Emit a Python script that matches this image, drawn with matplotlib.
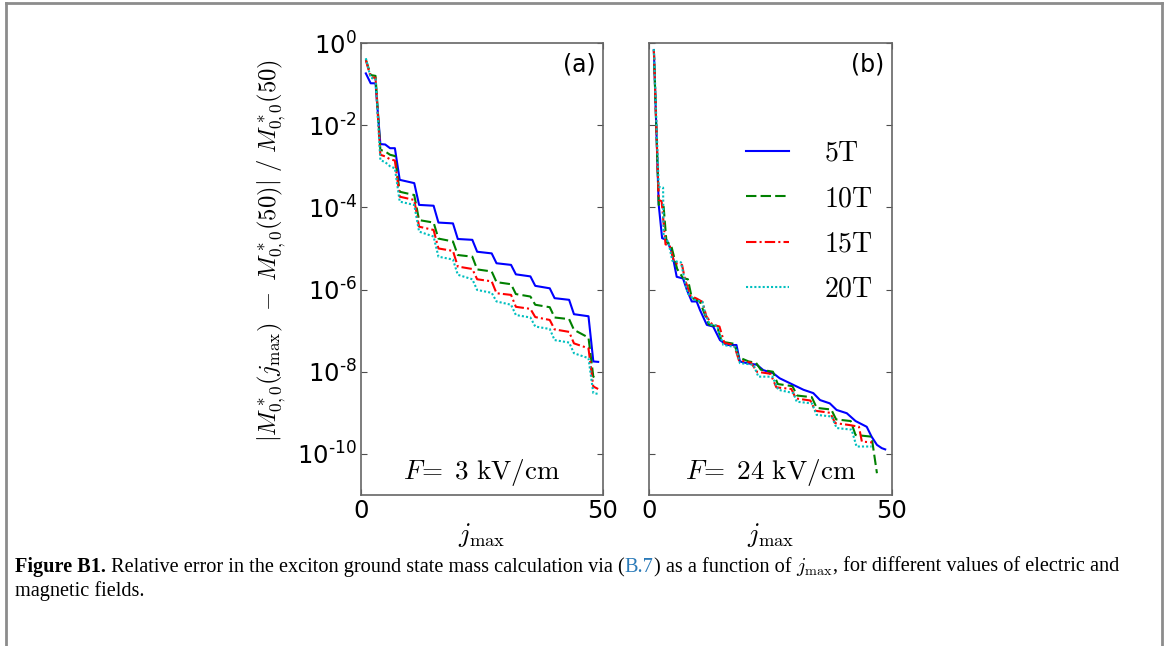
import numpy as np
import matplotlib.pyplot as plt
from matplotlib.lines import Line2D
from matplotlib.ticker import NullLocator, FuncFormatter

plt.rcParams['mathtext.fontset'] = 'cm'
plt.rcParams['font.family'] = 'DejaVu Sans'

# ---- data (log10 of relative error), panel (a): F = 3 kV/cm
xa = [1, 2, 3, 4, 5, 6, 7, 8, 11, 12, 15, 16, 19, 20, 23, 24, 27, 28, 31, 32,
      35, 36, 39, 40, 43, 44, 47, 48, 49]
ya_5T = [-0.74, -0.98, -0.98, -2.46, -2.47, -2.56, -2.56, -3.33, -3.41, -3.94,
         -3.96, -4.37, -4.39, -4.77, -4.79, -5.08, -5.12, -5.36, -5.40, -5.63,
         -5.68, -5.91, -5.97, -6.21, -6.25, -6.60, -6.65, -7.75, -7.76]
ya_10T = [-0.40, -0.78, -0.80, -2.60, -2.64, -2.72, -2.75, -3.62, -3.70, -4.31,
          -4.37, -4.76, -4.83, -5.16, -5.20, -5.51, -5.56, -5.82, -5.87, -6.11,
          -6.17, -6.37, -6.43, -6.68, -6.72, -6.98, -7.17, -8.12, -8.17]
ya_15T = [-0.42, -0.83, -0.85, -2.72, -2.76, -2.83, -2.86, -3.74, -3.82, -4.47,
          -4.55, -5.00, -5.06, -5.44, -5.50, -5.75, -5.80, -6.09, -6.13, -6.42,
          -6.47, -6.67, -6.74, -6.97, -7.03, -7.31, -7.43, -8.36, -8.42]
ya_20T = [-0.37, -0.85, -0.87, -2.85, -2.90, -3.00, -3.05, -3.86, -3.94, -4.59,
          -4.71, -5.20, -5.27, -5.64, -5.75, -6.01, -6.08, -6.29, -6.37, -6.62,
          -6.68, -6.90, -6.96, -7.23, -7.29, -7.55, -7.67, -8.52, -8.54]

# ---- panel (b): F = 24 kV/cm
xb_5T = [1, 2, 2.7, 3.6, 4.7, 5.7, 7.0, 7.8, 8.8, 9.8, 10.5, 11.9, 13.2, 14.6,
         16.0, 18.0, 18.7, 20.1, 22.2, 23.5, 25.6, 26.9, 29.0, 30.4, 31.8, 33.8,
         35.2, 37.2, 38.6, 40.7, 42.5, 44.8, 45.8, 46.9, 47.9, 48.6]
yb_5T = [-0.17, -3.94, -4.75, -4.79, -5.08, -5.69, -5.73, -6.01, -6.29, -6.29,
         -6.50, -6.86, -6.90, -7.23, -7.35, -7.35, -7.75, -7.79, -7.83, -7.96,
         -8.04, -8.16, -8.28, -8.36, -8.44, -8.52, -8.69, -8.77, -8.93, -9.01,
         -9.20, -9.34, -9.58, -9.78, -9.86, -9.89]
xb_10T = [1, 2, 3.0, 3.6, 4.5, 5.8, 7.0, 8.0, 8.8, 10.5, 11.3, 12.3, 14.0, 15.0,
          17.5, 18.5, 20.5, 22.0, 23.0, 25.5, 26.5, 29.5, 30.5, 33.5, 34.5,
          37.5, 38.5, 41.5, 42.5, 45.8, 46.9]
yb_10T = [-0.16, -3.94, -3.97, -4.85, -4.90, -5.50, -5.72, -5.75, -6.20, -6.30,
          -6.55, -6.85, -6.90, -7.27, -7.32, -7.65, -7.75, -7.78, -7.95, -8.00,
          -8.30, -8.35, -8.58, -8.62, -8.88, -8.92, -9.16, -9.20, -9.54, -9.58,
          -10.47]
xb_15T = [1, 2, 2.6, 3.4, 4.3, 5.2, 6.8, 7.4, 8.5, 9.8, 11.0, 11.8, 13.0, 14.5,
          15.5, 17.5, 18.5, 21.0, 22.2, 25.0, 26.2, 29.3, 30.2, 33.2, 34.2,
          37.3, 38.3, 41.4, 43.2, 43.8, 45.9]
yb_15T = [-0.17, -3.82, -3.85, -4.90, -4.95, -5.35, -5.40, -5.75, -6.15, -6.22,
          -6.30, -6.65, -6.85, -6.90, -7.30, -7.35, -7.72, -7.78, -8.00, -8.05,
          -8.38, -8.42, -8.65, -8.70, -8.95, -9.00, -9.25, -9.30, -9.34, -9.70,
          -9.72]
xb_20T = [1, 2, 2.9, 3.0, 4.0, 4.8, 6.6, 7.2, 8.0, 9.4, 11.0, 11.6, 12.5, 14.0,
          15.3, 17.8, 18.7, 21.5, 22.5, 25.4, 26.6, 29.7, 30.4, 33.5, 34.5,
          37.6, 38.6, 41.7, 42.7, 45.8]
yb_20T = [-0.15, -3.50, -3.52, -4.70, -4.85, -5.30, -5.34, -5.70, -6.10, -6.25,
          -6.30, -6.60, -6.85, -6.88, -7.35, -7.40, -7.79, -7.83, -8.12, -8.12,
          -8.44, -8.52, -8.73, -8.77, -9.05, -9.09, -9.37, -9.41, -9.82, -9.82]

labels = [r'$\mathrm{5T}$', r'$\mathrm{10T}$', r'$\mathrm{15T}$', r'$\mathrm{20T}$']
colors = ['#0000ff', '#008000', '#ff0000', '#00bfbf']
dashes = [(), (5, 2), (5, 1.5, 1, 1.5), (1, 1)]

W, H = 1168, 646
fig = plt.figure(figsize=(W / 100, H / 100), dpi=100)


def box(l, t, r, b):
    return [l / W, 1 - b / H, (r - l) / W, (b - t) / H]


def decade(v, pos):
    # "10" with a short hyphen in the exponent, like the original
    n = int(round(np.log10(v)))
    if n < 0:
        return '$\\mathdefault{10^{\u2010%d}}$' % (-n)
    return '$\\mathdefault{10^{%d}}$' % n


ax1 = fig.add_axes(box(361, 43, 603, 495))
ax2 = fig.add_axes(box(649, 43, 892, 495))

series_a = [(xa, ya_5T), (xa, ya_10T), (xa, ya_15T), (xa, ya_20T)]
series_b = [(xb_5T, yb_5T), (xb_10T, yb_10T), (xb_15T, yb_15T), (xb_20T, yb_20T)]

for ax, series in [(ax1, series_a), (ax2, series_b)]:
    for (x, y), c, d, lab in zip(series, colors, dashes, labels):
        line, = ax.plot(x, 10.0 ** np.array(y), color=c, lw=1.5, label=lab)
        if d:
            line.set_dashes(d)
    ax.set_yscale('log')
    ax.set_ylim(1e-11, 1)
    ax.set_xlim(0, 50)
    ax.set_xticks([0, 50])
    ax.set_yticks(10.0 ** np.arange(0, -11, -2))
    ax.yaxis.set_minor_locator(NullLocator())
    ax.yaxis.set_major_formatter(FuncFormatter(decade))
    ax.tick_params(direction='in', top=True, right=True, length=4,
                   labelsize=17.5, pad=3, color='0.3')
    for s in ax.spines.values():
        s.set_color('0.4')
        s.set_linewidth(1.2)
    ax.set_xlabel(r'$j_{\max}$', fontsize=19)
    ax.xaxis.set_label_coords(0.5, -0.058)

ax2.tick_params(labelleft=False)

ax1.set_ylabel(r'$|M^*_{0,0}(j_{\max})\ -\ M^*_{0,0}(50)|\ /\ M^*_{0,0}(50)$',
               fontsize=17.7)
ax1.yaxis.set_label_coords(-0.30, 0.54)

ax1.text(0.97, 0.98, '(a)', ha='right', va='top', fontsize=17, transform=ax1.transAxes)
ax2.text(0.97, 0.98, '(b)', ha='right', va='top', fontsize=17, transform=ax2.transAxes)
ax1.text(0.5, 0.05, r'$F\!=\ 3\ \mathrm{kV/cm}$', ha='center', va='center',
         fontsize=19.5, transform=ax1.transAxes)
ax2.text(0.5, 0.05, r'$F\!=\ 24\ \mathrm{kV/cm}$', ha='center', va='center',
         fontsize=19.5, transform=ax2.transAxes)

ax2.legend(loc='upper left', bbox_to_anchor=(0.40, 0.788), frameon=False,
           fontsize=20, handlelength=1.55, handletextpad=1.25, labelspacing=0.62,
           borderpad=0, borderaxespad=0)

# figure frame
for xs, ys in [([6, 6], [3, H]), ([6, 1162], [3, 3]), ([1162, 1162], [3, H])]:
    fig.add_artist(Line2D([v / W for v in xs], [1 - v / H for v in ys],
                          transform=fig.transFigure, color='0.55', lw=2))

# caption, written piece by piece
renderer = fig.canvas.get_renderer()


def caption_line(pieces, x0, ybase):
    x = x0
    for s, kw in pieces:
        t = fig.text(x / W, 1 - ybase / H, s, va='baseline', ha='left',
                     family='Liberation Serif', fontsize=14.6, **kw)
        x = t.get_window_extent(renderer).x1


caption_line([('Figure B1.', dict(weight='bold')),
              (' Relative error in the exciton ground state mass calculation via (', {}),
              ('B.7', dict(color='#2a7ab8')),
              (') as a function of ', {}),
              (r'$j_{\max}$', {}),
              (', for different values of electric and', {})], 15, 572)
caption_line([('magnetic fields.', {})], 15, 596)

fig.savefig('out.png', dpi=100)
